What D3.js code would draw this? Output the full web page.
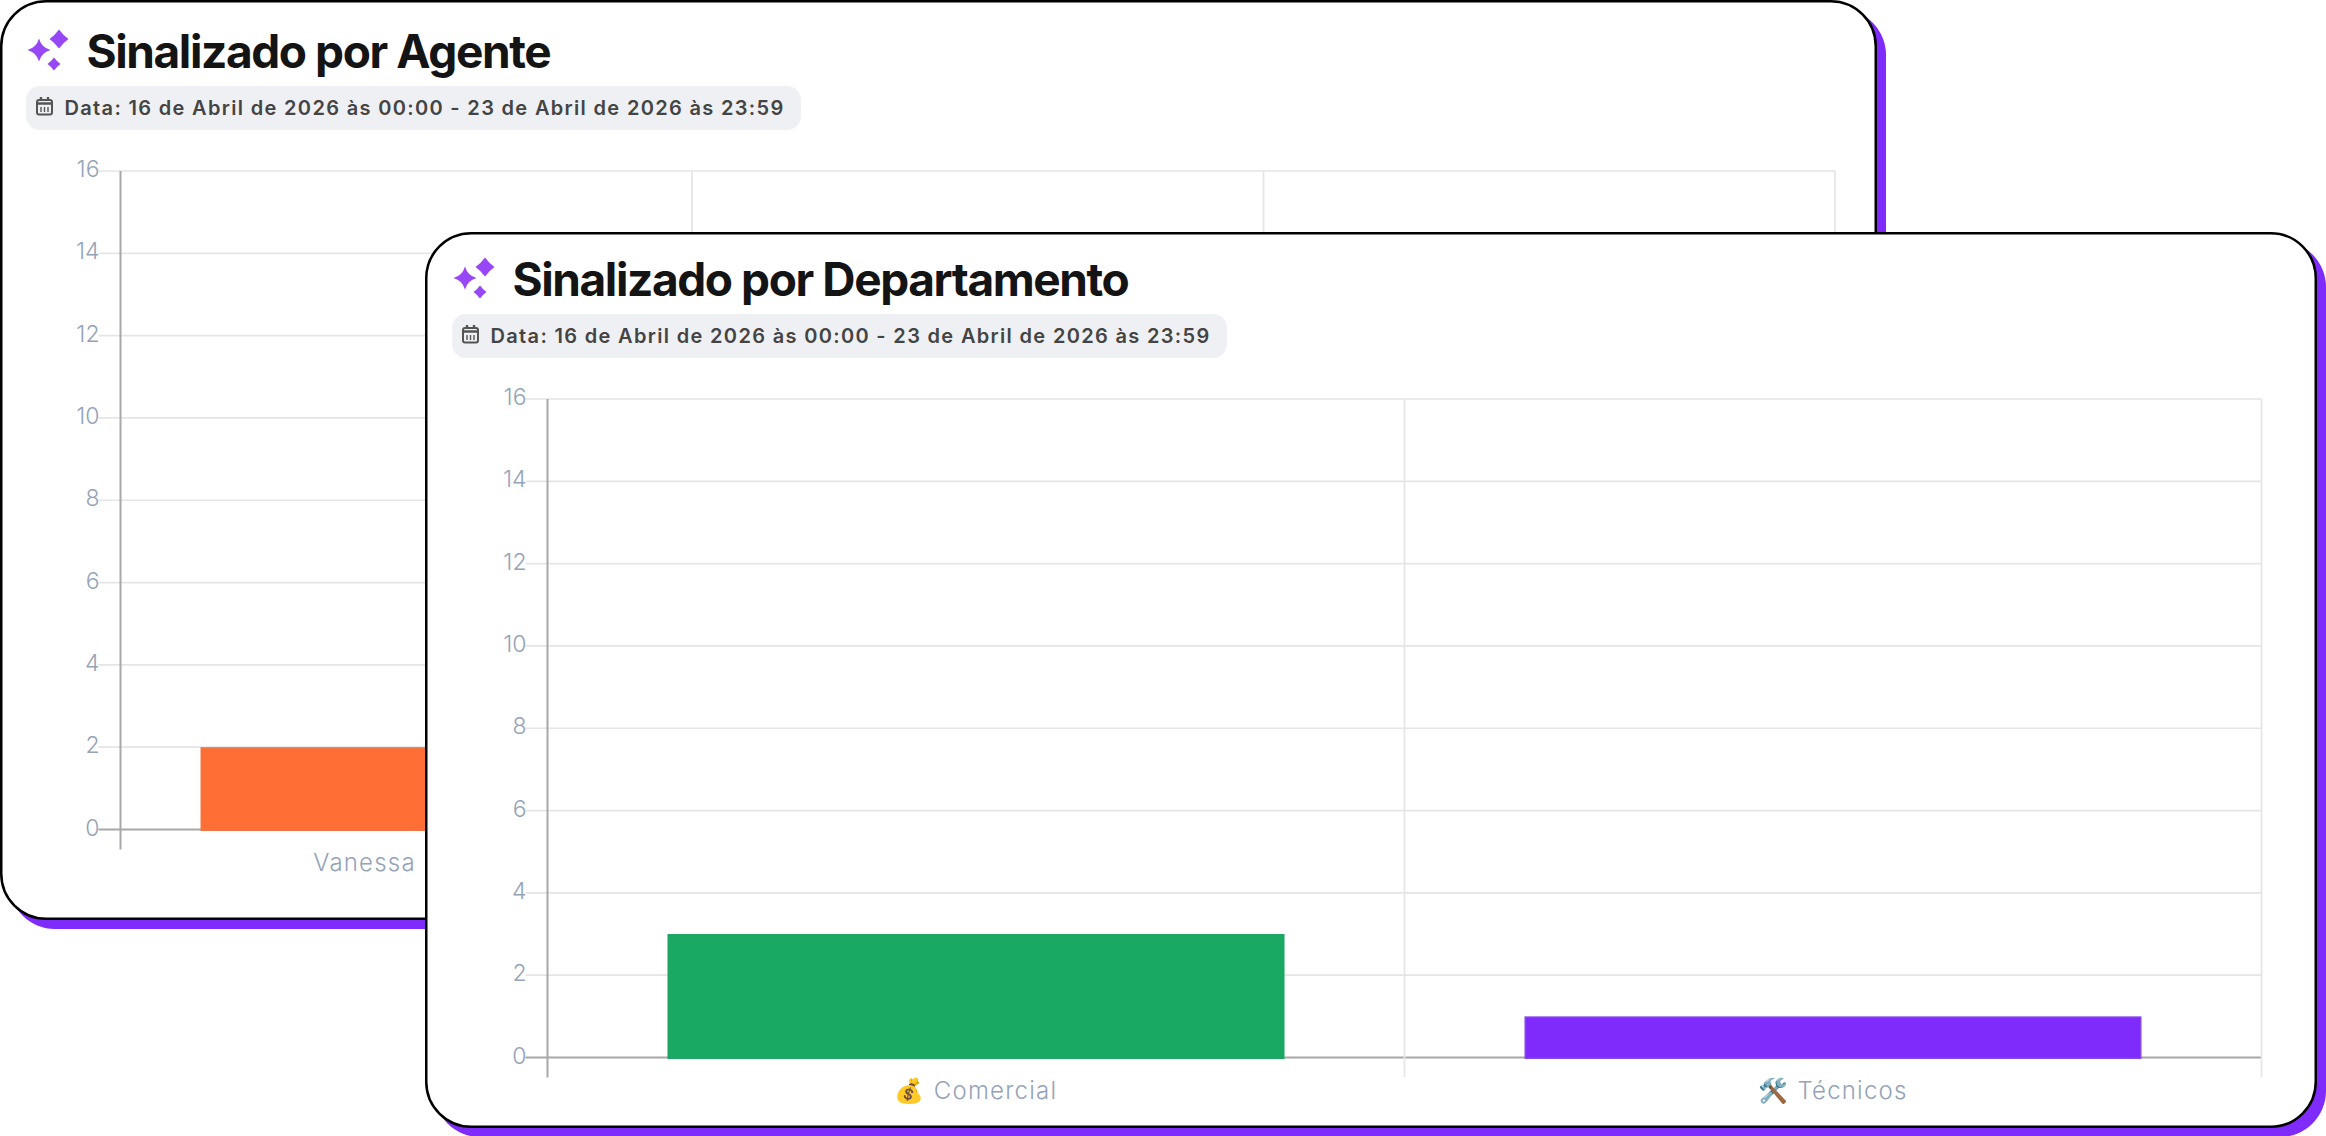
<!DOCTYPE html>
<html lang="pt"><head><meta charset="utf-8">
<script src="https://cdn.jsdelivr.net/npm/d3@7"></script>
<style>
html,body{margin:0;padding:0;background:#fff;width:2326px;height:1136px;overflow:hidden}
svg{display:block}
</style></head><body>
<svg id="c" width="2326" height="1136"></svg>
<script>
const titles = ["Sinalizado por Agente", "Sinalizado por Departamento"];
const dateText = "Data: 16 de Abril de 2026 às 00:00 - 23 de Abril de 2026 às 23:59";
const yTicks = [0,2,4,6,8,10,12,14,16];
const agentSlots = [0,1,2];
const agentCategories = ["Vanessa"];
const agentValues = [2];
const agentColors = ["#FF6F35"];
const agentBorders = ["#EE7545"];
const deptSlots = [0,1];
const deptCategories = ["💰 Comercial", "🛠️ Técnicos"];
const deptValues = [3, 1];
const deptColors = ["#19A963", "#7E2BFB"];
const deptBorders = ["#1FA465", "#8647E6"];

const svg = d3.select("#c");
const FONT_T = "Inter, sans-serif", FONT_A = "Inter, sans-serif";

function card(g, o){
  g.append("rect").attr("x",o.x+9).attr("y",o.y+9).attr("width",o.w).attr("height",o.h)
    .attr("rx",46).attr("fill","#7E2BFB");
  g.append("rect").attr("x",o.x+1.25).attr("y",o.y+1.25).attr("width",o.w-2.5).attr("height",o.h-2.5)
    .attr("rx",45).attr("fill","#fff").attr("stroke","#000").attr("stroke-width",2.5);
  const X=o.x+o.dx, Y=o.y+o.dy;
  const star=(cx,cy,r,k)=>`M${cx} ${cy-r}Q${cx+r*k} ${cy-r*k} ${cx+r} ${cy}Q${cx+r*k} ${cy+r*k} ${cx} ${cy+r}Q${cx-r*k} ${cy+r*k} ${cx-r} ${cy}Q${cx-r*k} ${cy-r*k} ${cx} ${cy-r}Z`;
  g.append("path").attr("fill","#9747F5")
    .attr("d",star(X+39,Y+50,11.5,.22)+star(X+59,Y+39,9.5,.42)+star(X+54,Y+64,6.5,.42));
  g.append("text").attr("x",X+86.5).attr("y",Y+68).attr("font-family",FONT_T)
    .attr("font-weight",700).attr("font-size",46).attr("letter-spacing",-1.4).attr("fill","#141414").text(o.title);
  g.append("rect").attr("x",X+26).attr("y",Y+86).attr("width",775).attr("height",44).attr("rx",14).attr("fill","#EFF0F4");
  const ix=X+37, iy=Y+100;
  const ic=g.append("g").attr("fill","none").attr("stroke","#555").attr("stroke-width",2);
  ic.append("rect").attr("x",ix).attr("y",iy).attr("width",15).attr("height",14.5).attr("rx",2);
  ic.append("path").attr("d",`M${ix} ${iy+3.5}H${ix+15}M${ix+4} ${iy-3}V${iy}M${ix+11} ${iy-3}V${iy}`).attr("stroke-width",2.4);
  ic.append("path").attr("d",`M${ix+4} ${iy+7}V${iy+12}M${ix+7.5} ${iy+7}V${iy+12}M${ix+11} ${iy+7}V${iy+12}`).attr("stroke-width",1.4);
  g.append("text").attr("x",X+64.5).attr("y",Y+115).attr("font-family",FONT_T)
    .attr("font-weight",600).attr("font-size",20).attr("letter-spacing",1.33).attr("fill","#444").text(dateText);
}

function chart(g,o){
  const x=d3.scaleBand().domain(o.slots).range([o.left,o.right]);
  const y=d3.scaleLinear().domain([0,16]).range([o.base,o.top]);
  const grid="#E5E5E5", axis="#A8A8A8";
  yTicks.forEach(t=>{
    g.append("line").attr("x1",o.left-22).attr("x2",o.right).attr("y1",y(t)).attr("y2",y(t))
      .attr("stroke",t===0?axis:grid).attr("stroke-width",t===0?2:1.7);
    g.append("text").attr("x",o.left-21).attr("y",y(t)-2).attr("dy","0.35em").attr("text-anchor","end")
      .attr("font-family",FONT_A).attr("font-weight",300).attr("font-size",23).attr("fill","#94A3B8").text(t);
  });
  const xs=[...o.slots.map(c=>x(c)),o.right];
  xs.forEach((v,i)=>{
    g.append("line").attr("x1",v).attr("x2",v).attr("y1",o.top).attr("y2",o.base+20)
      .attr("stroke",i===0?axis:grid).attr("stroke-width",i===0?2:1.7);
  });
  const pad=x.bandwidth()*0.14, bw=x.bandwidth()*0.72;
  g.selectAll("rect.bar").data(o.vals).join("rect").attr("class","bar")
    .attr("x",(d,i)=>x(i)+pad+.75).attr("width",bw-1.5)
    .attr("y",d=>y(d)+.75).attr("height",d=>y(0)-y(d))
    .attr("fill",(d,i)=>o.colors[i]).attr("stroke",(d,i)=>o.borders[i]).attr("stroke-width",1.5);
  o.cats.forEach((c,i)=>{
    g.append("text").attr("x",x(i)+x.bandwidth()/2+(o.labelDx||0)).attr("y",o.base+41)
      .attr("text-anchor",o.labelDx?"start":"middle").attr("font-family",FONT_A+",'Noto Color Emoji'").attr("font-weight",300).attr("font-size",24)
      .attr("letter-spacing",1.2).attr("fill","#94A3B8").text(c);
  });
}

const g1=svg.append("g");
card(g1,{x:0,y:0,w:1877,h:920,dx:0,dy:0,title:titles[0]});
chart(g1,{left:120.5,right:1835,top:171,base:829.5,slots:agentSlots,cats:agentCategories,vals:agentValues,colors:agentColors,borders:agentBorders,labelDx:-93});
const g2=svg.append("g");
card(g2,{x:425,y:232,w:1892,h:896,dx:1,dy:-4,title:titles[1]});
chart(g2,{left:547.5,right:2261.5,top:399,base:1057.5,slots:deptSlots,cats:deptCategories,vals:deptValues,colors:deptColors,borders:deptBorders});
</script></body></html>
